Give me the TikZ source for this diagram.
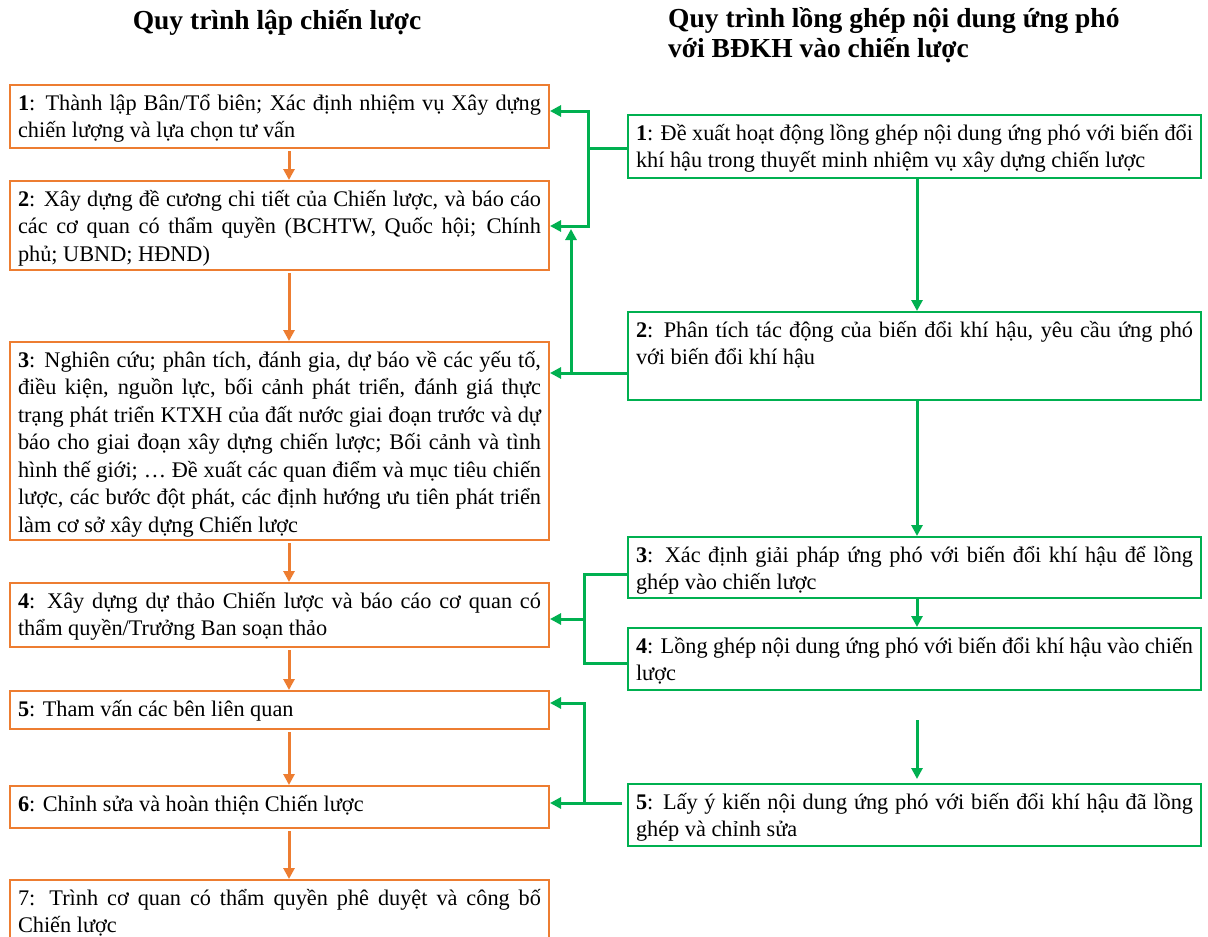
\documentclass[tikz,border=0pt]{standalone}
\usepackage{fontspec}
\setmainfont{Liberation Serif}
\usetikzlibrary{arrows.meta,calc}

\definecolor{ora}{HTML}{ED7D31}
\definecolor{grn}{HTML}{00B050}

% one justified line, one ragged last line, and the fixed-size text block of a box
\newcommand{\jline}[1]{\hbox to\hsize{\strut #1}}
\newcommand{\lline}[1]{\hbox to\hsize{\strut #1\hfil}}
\newcommand{\boxbody}[3]{\vbox to #1{\hsize=#2\relax #3\vss}}

\tikzset{
  txt/.style={font=\fontsize{22.3}{27.5}\selectfont},
  obox/.style={txt, draw=ora, line width=2pt, fill=white, anchor=north west,
               inner xsep=8pt, inner ysep=6pt},
  gbox/.style={txt, draw=grn, line width=2pt, fill=white, anchor=north west,
               inner xsep=8pt, inner ysep=6pt},
  oarr/.style={draw=ora, line width=3pt, shorten <=2pt,
               -{Triangle[length=11pt,width=11pt]}},
  garr/.style={draw=grn, line width=3pt,
               -{Triangle[length=11pt,width=11pt]}},
  gline/.style={draw=grn, line width=3pt},
  title/.style={font=\bfseries\fontsize{27.5}{30}\selectfont, inner sep=0pt},
}

\begin{document}
\begin{tikzpicture}[x=1pt,y=-1pt]
\useasboundingbox (0,0) rectangle (1208,937);

% headings
\node[title] (t1) at (277,22) {Quy trình lập chiến lược};
\node[title, anchor=west, align=left] (t2) at (668,35)
  {Quy trình lồng ghép nội dung ứng phó\\với BĐKH vào chiến lược};

% strategy steps
\node[obox] (L1) at (9,84) {\boxbody{51pt}{523pt}{%
  \jline{\textbf{1}: Thành lập Bân/Tổ biên; Xác định nhiệm vụ Xây dựng}
  \lline{chiến lượng và lựa chọn tư vấn}}};
\node[obox] (L2) at (9,180) {\boxbody{77pt}{523pt}{%
  \jline{\textbf{2}: Xây dựng đề cương chi tiết của Chiến lược, và báo cáo}
  \jline{các cơ quan có thẩm quyền (BCHTW, Quốc hội; Chính}
  \lline{phủ; UBND; HĐND)}}};
\node[obox] (L3) at (9,341) {\boxbody{186pt}{523pt}{%
  \jline{\textbf{3}: Nghiên cứu; phân tích, đánh gia, dự báo về các yếu tố,}
  \jline{điều kiện, nguồn lực, bối cảnh phát triển, đánh giá thực}
  \jline{trạng phát triển KTXH của đất nước giai đoạn trước và dự}
  \jline{báo cho giai đoạn xây dựng chiến lược; Bối cảnh và tình}
  \jline{hình thế giới; … Đề xuất các quan điểm và mục tiêu chiến}
  \jline{lược, các bước đột phát, các định hướng ưu tiên phát triển}
  \lline{làm cơ sở xây dựng Chiến lược}}};
\node[obox] (L4) at (9,582) {\boxbody{52pt}{523pt}{%
  \jline{\textbf{4}: Xây dựng dự thảo Chiến lược và báo cáo cơ quan có}
  \lline{thẩm quyền/Trưởng Ban soạn thảo}}};
\node[obox] (L5) at (9,690) {\boxbody{26pt}{523pt}{%
  \lline{\textbf{5}: Tham vấn các bên liên quan}}};
\node[obox] (L6) at (9,785) {\boxbody{30pt}{523pt}{%
  \lline{\textbf{6}: Chỉnh sửa và hoàn thiện Chiến lược}}};
\node[obox] (L7) at (9,879) {\boxbody{58pt}{523pt}{%
  \jline{7: Trình cơ quan có thẩm quyền phê duyệt và công bố}
  \lline{Chiến lược}}};

% climate-change mainstreaming steps
\node[gbox] (R1) at (627,114) {\boxbody{51pt}{557pt}{%
  \jline{\textbf{1}: Đề xuất hoạt động lồng ghép nội dung ứng phó với biến đổi}
  \lline{khí hậu trong thuyết minh nhiệm vụ xây dựng chiến lược}}};
\node[gbox] (R2) at (627,311) {\boxbody{76pt}{557pt}{%
  \jline{\textbf{2}: Phân tích tác động của biến đổi khí hậu, yêu cầu ứng phó}
  \lline{với biến đổi khí hậu}}};
\node[gbox] (R3) at (627,536) {\boxbody{49pt}{557pt}{%
  \jline{\textbf{3}: Xác định giải pháp ứng phó với biến đổi khí hậu để lồng}
  \lline{ghép vào chiến lược}}};
\node[gbox] (R4) at (627,627) {\boxbody{50pt}{557pt}{%
  \jline{\textbf{4}: Lồng ghép nội dung ứng phó với biến đổi khí hậu vào chiến}
  \lline{lược}}};
\node[gbox] (R5) at (627,783) {\boxbody{50pt}{557pt}{%
  \jline{\textbf{5}: Lấy ý kiến nội dung ứng phó với biến đổi khí hậu đã lồng}
  \lline{ghép và chỉnh sửa}}};

% columns of the connectors
\coordinate (oc) at (289,0);
\coordinate (gc) at (917,0);
\coordinate (b1) at (588,0);
\coordinate (b2) at (571,0);
\coordinate (b3) at (584,0);
\coordinate (g5) at (917,720);

% orange chain
\draw[oarr] (L1.south -| oc) -- (L2.north -| oc);
\draw[oarr] (L2.south -| oc) -- (L3.north -| oc);
\draw[oarr] (L3.south -| oc) -- (L4.north -| oc);
\draw[oarr] (L4.south -| oc) -- (L5.north -| oc);
\draw[oarr] (L5.south -| oc) -- (L6.north -| oc);
\draw[oarr] (L6.south -| oc) -- (L7.north -| oc);

% green chain
\draw[garr] (R1.south -| gc) -- (R2.north -| gc);
\draw[garr] (R2.south -| gc) -- (R3.north -| gc);
\draw[garr] (R3.south -| gc) -- (R4.north -| gc);
\draw[garr] (g5) -- ($(R5.north -| gc)+(0,-4)$);

% links from the green steps to the strategy steps
\draw[garr] (R1.west |- 0,148) -- (b1 |- 0,148) |- (L1.east |- 0,111);
\draw[garr] (b1 |- 0,148) |- (L2.east |- 0,226);
\draw[garr] (R2.west |- 0,373) -- (L3.east |- 0,373);
\draw[garr] (b2 |- 0,373) -- (b2 |- 0,229);
\draw[gline] (R3.west |- 0,574) -| (b3 |- 0,663) -- (R4.west |- 0,663);
\draw[garr] (b3 |- 0,619) -- (L4.east |- 0,619);
\draw[gline] ($(R5.west |- 0,803)+(-5,0)$) -- (b3 |- 0,803);
\draw[garr] (b3 |- 0,803) -- (L6.east |- 0,803);
\draw[garr] (b3 |- 0,803) |- (L5.east |- 0,703);
\end{tikzpicture}
\end{document}
